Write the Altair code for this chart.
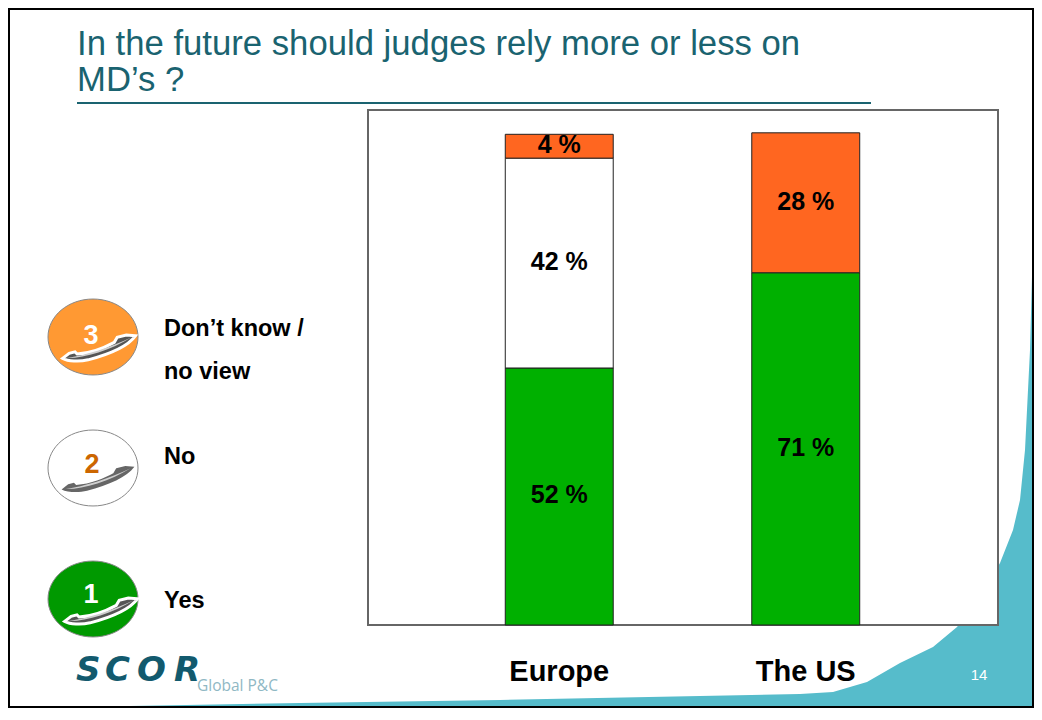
import altair as alt
import pandas as pd

# ---- data ----
regions = ["Europe", "The US"]
answers = ["Yes", "No", "Don't know / no view"]
bar_colors = ["#00b000", "#ffffff", "#ff6620"]
europe_heights = [51.8, 42.3, 4.8]
us_heights = [71.0, 0.0, 28.2]
europe_labels = ["52 %", "42 %", "4 %"]
us_labels = ["71 %", "", "28 %"]

title_lines = ["In the future should judges rely more or less on", "MD\u2019s ?"]
swoosh_x = [130, 300, 500, 700, 800, 833, 867, 900, 933, 957, 980, 1000, 1013, 1020, 1025, 1030, 1036, 1042]
swoosh_y = [706, 703, 700, 696, 694, 692, 682, 663, 647, 627, 597, 563, 530, 500, 450, 350, 130, 100]

# plot area on the page
OX, OY, W, H = 368, 110, 630, 515
PAGE_RIGHT, PAGE_BOTTOM = 1034, 708


def px(x):
    return alt.value(x - OX)


def py(y):
    return alt.value(y - OY)


rows = []
for region, heights, labels in [(regions[0], europe_heights, europe_labels), (regions[1], us_heights, us_labels)]:
    base = 0.0
    for answer, h, lab in zip(answers, heights, labels):
        if h > 0:
            rows.append(dict(region=region, answer=answer, y0=base, y1=base + h, mid=base + h / 2, label=lab))
        base += h
df = pd.DataFrame(rows)

x_scale = alt.Scale(domain=regions, range=[68, 561], paddingInner=0.562, paddingOuter=0.281)
y_scale = alt.Scale(domain=[0, 103.8], range=[H, 0], nice=False)
FONT = "Liberation Sans"

swoosh = (
    alt.Chart(pd.DataFrame(dict(x=swoosh_x, y=swoosh_y, y2=[720] * len(swoosh_x))))
    .mark_area(color="#56bccb", clip=False, line=False)
    .encode(
        x=alt.X("x:Q", axis=None, scale=alt.Scale(domain=[0, 1042], range=[-OX, 1042 - OX], nice=False, zero=False)),
        y=alt.Y("y:Q", axis=None, scale=alt.Scale(domain=[0, 720], range=[-OY, 720 - OY], nice=False, zero=False)),
        y2="y2:Q",
    )
)

one = pd.DataFrame({"a": [0]})


def box(x0, x1, y0, y1, **kw):
    return alt.Chart(one).mark_rect(**kw).encode(x=px(x0), x2=px(x1), y=py(y0), y2=py(y1))


def txt(s, x, y, size, color="#000000", bold=True, align="left", font=FONT, italic=False):
    return alt.Chart(pd.DataFrame({"t": [s]})).mark_text(
        font=font, fontSize=size, fontWeight="bold" if bold else "normal", color=color,
        align=align, baseline="middle", fontStyle="italic" if italic else "normal",
    ).encode(x=px(x), y=py(y), text="t:N")


layers = [swoosh]
layers.append(box(9, PAGE_RIGHT - 1, 9, PAGE_BOTTOM - 1, fill=None, stroke="#000000", strokeWidth=2, fillOpacity=0))
layers.append(box(OX, OX + W, OY, OY + H, fill="#ffffff", stroke="#666666", strokeWidth=2))

bars = (
    alt.Chart(df)
    .mark_bar(stroke="#222222", strokeWidth=1)
    .encode(
        x=alt.X("region:N", scale=x_scale, sort=regions, title=None,
                axis=alt.Axis(domain=False, ticks=False, labelAngle=0, labelFont=FONT, labelFontSize=29,
                              labelFontWeight="bold", labelColor="#000000", labelPadding=32, grid=False, zindex=1)),
        y=alt.Y("y0:Q", scale=y_scale, axis=None),
        y2="y1:Q",
        color=alt.Color("answer:N", scale=alt.Scale(domain=answers, range=bar_colors), legend=None),
    )
)
labels = (
    alt.Chart(df)
    .mark_text(font=FONT, fontSize=25, fontWeight="bold", color="#000000", baseline="middle", dy=-1)
    .encode(
        x=alt.X("region:N", scale=x_scale, sort=regions, axis=None),
        y=alt.Y("mid:Q", scale=y_scale, axis=None),
        text="label:N",
    )
)
layers += [bars, labels]

# title and rule
layers.append(txt(title_lines[0], 77, 45, 34.7, color="#1a6370", bold=False))
layers.append(txt(title_lines[1], 77, 81, 34.7, color="#1a6370", bold=False))
layers.append(box(77, 871, 102, 104, fill="#1a6370"))

# legend badges
ELLIPSE = "M-1,0A1,0.844,0,1,1,1,0A1,0.844,0,1,1,-1,0Z"
HANDLE = ("M-1,0.34L-0.82,0.2L-0.66,0.16L-0.6,0.22C-0.2,0.2,0.2,0.02,0.42,-0.1L0.5,-0.24L0.75,-0.3L1,-0.28"
          "C0.8,0,0.3,0.22,-0.3,0.38C-0.55,0.44,-0.85,0.42,-1,0.34Z")
STRIPE = "M-0.88,0.33C-0.4,0.34,0.3,0.12,0.9,-0.24C0.3,0.05,-0.4,0.26,-0.88,0.33Z"


def symbol(path, x, y, size, **kw):
    return alt.Chart(one).mark_point(shape=path, size=size, opacity=1, **kw).encode(x=px(x), y=py(y))


badges = [
    ("3", "#ff9933", "#ffffff", 93, 337, 91, 336, 99, 346, "#ffffff"),
    ("2", "#ffffff", "#cc6600", 93, 468, 92, 465, 98, 477, None),
    ("1", "#009900", "#ffffff", 93, 599, 91, 595, 101, 609, "#ffffff"),
]
for num, fill, numc, cx, cy, nx, ny, hx, hy, halo in badges:
    layers.append(symbol(ELLIPSE, cx, cy, 8100, filled=True, fill=fill, stroke="#888888", strokeWidth=1))
    layers.append(txt(num, nx, ny, 27, color=numc, align="center"))
    if halo:
        layers.append(symbol(HANDLE, hx, hy, 5300, filled=True, fill="#555555", stroke=halo, strokeWidth=3))
    else:
        layers.append(symbol(HANDLE, hx, hy, 5300, filled=True, fill="#666666", strokeWidth=0))
    layers.append(symbol(STRIPE, hx, hy, 5300, filled=True, fill="#cfcfcf", strokeWidth=0))

layers.append(txt("Don\u2019t know /", 164, 329, 23.5))
layers.append(txt("no view", 164, 372, 23.5))
layers.append(txt("No", 164, 457, 23.5))
layers.append(txt("Yes", 164, 601, 23.5))

# logo and page number
for letter, lx in zip("SCOR", [76, 105, 137, 174]):
    layers.append(txt(letter, lx, 671, 34, color="#125a6e", italic=True, font="DejaVu Sans"))
layers.append(txt("Global P&C", 197, 686, 15.5, color="#8fb8c4", bold=False, font="Open Sans"))
layers.append(txt("14", 979, 675, 15, color="#ffffff", bold=False, align="center"))

chart = (
    alt.layer(*layers)
    .resolve_scale(x="independent", y="independent", color="independent")
    .resolve_axis(x="independent", y="independent")
    .properties(
        width=W, height=H,
        padding={"left": OX - 8, "top": OY - 8, "right": PAGE_RIGHT - OX - W, "bottom": PAGE_BOTTOM - OY - H},
        autosize=alt.AutoSizeParams(type="none"),
        background="#ffffff",
    )
    .configure_view(stroke=None)
)
chart.save("out.html", embed_options={"renderer": "svg", "actions": False})
